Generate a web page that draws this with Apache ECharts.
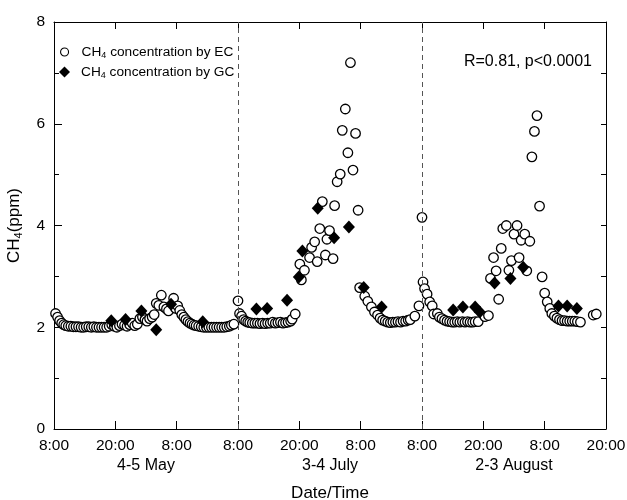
<!DOCTYPE html>
<html>
<head>
<meta charset="utf-8">
<script src="https://cdn.jsdelivr.net/npm/echarts@6/dist/echarts.min.js"></script>
<style>
html,body{margin:0;padding:0;background:#fff;}
#chart{width:627px;height:500px;}
</style>
</head>
<body>
<div id="chart"></div>
<script>
// ---- data (hours since 8:00 of first day of each campaign, laid end to end) ----
const tickLabels = ["8:00","20:00","8:00","8:00","20:00","8:00","8:00","20:00","8:00","20:00"];
const segmentLabels = ["4-5 May","3-4 July","2-3 August"];
const segmentCenters = [18, 54, 90];
const dividerHours = [36, 72];

const ecMayHours = [0.3,0.7,1.1,1.5,1.9,2.3,2.8,3.3,3.8,4.3,4.8,5.3,5.8,6.3,6.8,7.3,7.8,8.3,8.8,9.3,9.8,10.3,10.8,11.3,11.8,12.3,12.8,13.3,13.8,14.3,14.8,15.3,15.8,16.3,16.8,17.3,17.8,18.2,18.7,19.2,19.6,20.0,20.5,21.0,21.5,22.0,22.4,23.4,23.8,24.2,24.6,25.0,25.4,25.8,26.2,26.6,27.0,27.4,27.8,28.3,28.8,29.3,29.8,30.3,30.8,31.3,31.8,32.3,32.8,33.3,33.8,34.3,34.7,35.2];
const ecMayPpm = [2.27,2.2,2.13,2.08,2.05,2.03,2.02,2.02,2.01,2.01,2.01,2.0,2.0,2.01,2.01,2.0,2.01,2.0,2.0,2.0,2.0,2.0,2.02,2.05,2.02,2.0,2.03,2.06,2.04,2.02,2.05,2.08,2.03,2.06,2.17,2.2,2.15,2.12,2.17,2.2,2.25,2.47,2.43,2.63,2.40,2.36,2.32,2.57,2.37,2.42,2.33,2.25,2.2,2.15,2.11,2.08,2.06,2.04,2.03,2.02,2.01,2.0,2.0,2.0,2.0,2.0,2.0,2.0,2.0,2.0,2.01,2.02,2.04,2.06];

const ecJulyHours = [36.0,36.3,36.7,37.1,37.5,37.9,38.3,38.8,39.3,39.8,40.3,40.8,41.3,41.8,42.3,42.8,43.3,43.8,44.3,44.8,45.3,45.8,46.3,46.6,47.2,48.1,48.4,49.0,50.0,50.4,51.0,51.5,52.0,52.5,53.1,53.4,53.9,54.6,54.9,55.4,56.0,56.4,57.0,57.5,58.0,58.5,59.0,59.5,59.8,60.8,61.4,62.1,62.7,63.3,63.8,64.3,64.8,65.3,65.8,66.3,66.8,67.3,67.8,68.3,68.8,69.3,69.7,70.6,71.4];
const ecJulyPpm = [2.52,2.27,2.22,2.15,2.12,2.1,2.09,2.08,2.08,2.08,2.07,2.08,2.07,2.08,2.08,2.1,2.08,2.09,2.1,2.08,2.09,2.1,2.12,2.16,2.26,3.24,2.93,3.12,3.37,3.57,3.68,3.29,3.94,4.47,3.42,3.73,3.90,3.35,4.39,4.86,5.01,5.87,6.29,5.43,7.2,5.09,5.81,4.30,2.78,2.61,2.51,2.40,2.30,2.24,2.18,2.14,2.12,2.1,2.09,2.1,2.1,2.11,2.1,2.12,2.12,2.14,2.15,2.22,2.42];

const ecAugHours = [72.0,72.2,72.5,73.0,73.5,74.0,74.3,75.0,75.4,75.9,76.4,76.9,77.4,77.9,78.4,78.9,79.4,79.9,80.4,80.9,81.4,81.9,82.4,83.0,84.3,85.0,85.4,86.0,86.5,87.0,87.5,87.8,88.5,89.0,89.5,90.0,90.6,91.0,91.4,92.1,92.5,93.1,93.5,94.0,94.5,95.0,95.5,96.0,96.5,97.0,97.4,97.9,98.4,98.9,99.4,99.9,100.4,100.9,101.4,101.9,102.4,103.0,105.5,106.1];
const ecAugPpm = [4.16,2.89,2.76,2.65,2.50,2.42,2.26,2.27,2.2,2.17,2.14,2.12,2.11,2.1,2.1,2.11,2.1,2.11,2.1,2.11,2.1,2.1,2.11,2.11,2.21,2.23,2.96,3.37,3.11,2.55,3.55,3.94,4.0,3.12,3.31,3.83,4.0,3.37,3.71,3.83,3.11,3.69,5.35,5.85,6.16,4.38,2.99,2.67,2.50,2.37,2.27,2.22,2.18,2.15,2.13,2.13,2.12,2.12,2.12,2.12,2.11,2.1,2.24,2.26];

const gcHours = [11.2,14.0,17.1,20.0,22.9,29.1, 39.6,41.7,45.6,47.9,48.6,51.6,54.8,57.7,60.6,64.1, 78.1,80.0,82.4,83.3,86.2,89.3,91.8,98.7,100.4,102.3];
const gcPpm   = [2.13,2.15,2.32,1.95,2.45,2.11, 2.36,2.37,2.53,2.99,3.50,4.34,3.76,3.97,2.78,2.40, 2.34,2.40,2.40,2.30,2.87,2.96,3.18,2.42,2.42,2.37];

const statText = "R=0.81, p<0.0001";

// ---- build ----
function zip(a, b) { return a.map((x, i) => [x, b[i]]); }
const ecData = zip(ecMayHours, ecMayPpm).concat(zip(ecJulyHours, ecJulyPpm), zip(ecAugHours, ecAugPpm));
const gcData = zip(gcHours, gcPpm);

const FONT = "Liberation Sans, Arial, sans-serif";
const chart = echarts.init(document.getElementById('chart'), null, {renderer: 'canvas'});

const xBase = {type: 'value', min: 0, max: 108, interval: 12, splitLine: {show: false}};
const yBase = {type: 'value', min: 0, max: 8, interval: 2, splitLine: {show: false}};
const black = {color: '#000', width: 1};

function legendText(pad) {
  return {
    color: '#000', fontFamily: FONT,
    rich: {
      b: {fontSize: 13.7, fontFamily: FONT, color: '#000', lineHeight: 16, padding: [0, 0, 0, pad]},
      a: {fontSize: 13.7, fontFamily: FONT, color: '#000', lineHeight: 16},
      s: {fontSize: 9, fontFamily: FONT, color: '#000', verticalAlign: 'bottom', lineHeight: 12}
    }
  };
}
const legendFmt = n => '{b|CH}{s|4}{a| concentration by ' + n + '}';

chart.setOption({
  animation: false,
  backgroundColor: '#fff',
  textStyle: {fontFamily: FONT},
  grid: {left: 54, right: 21, top: 22, bottom: 71, containLabel: false, outerBoundsMode: 'none'},
  legend: [
    {
      orient: 'vertical', left: 60, top: 45, padding: 0, itemWidth: 8, itemHeight: 8,
      data: [{name: 'EC', icon: 'circle', itemStyle: {borderWidth: 1.1}}],
      formatter: legendFmt, textStyle: legendText(8)
    },
    {
      orient: 'vertical', left: 59, top: 65, padding: 0, itemWidth: 11, itemHeight: 11,
      data: [{name: 'GC', icon: 'diamond'}],
      formatter: legendFmt, textStyle: legendText(6)
    }
  ],
  graphic: [{
    type: 'text', right: 35, top: 54,
    style: {text: statText, font: '16px ' + FONT, fill: '#000'}
  }],
  xAxis: [
    Object.assign({}, xBase, {
      position: 'bottom',
      name: 'Date/Time', nameLocation: 'middle', nameGap: 56,
      nameTextStyle: {fontSize: 17, color: '#000', fontFamily: FONT},
      axisLine: {onZero: false, lineStyle: black},
      axisTick: {inside: true, length: 8, lineStyle: black},
      axisLabel: {margin: 9, fontSize: 15.5, color: '#000', fontFamily: FONT,
        formatter: v => tickLabels[Math.round(v / 12)]}
    }),
    Object.assign({}, xBase, {
      position: 'top',
      axisLine: {onZero: false, lineStyle: black},
      axisTick: {inside: true, length: 7, lineStyle: black},
      axisLabel: {show: false}
    }),
    Object.assign({}, xBase, {
      position: 'bottom', offset: 21,
      axisLine: {show: false, onZero: false},
      axisTick: {show: false},
      axisLabel: {margin: 8, fontSize: 16, color: '#000', fontFamily: FONT,
        customValues: segmentCenters,
        formatter: v => segmentLabels[segmentCenters.indexOf(v)]}
    })
  ],
  yAxis: [
    Object.assign({}, yBase, {
      position: 'left',
      name: '{a|CH}{s|4}{a|(ppm)}', nameLocation: 'middle', nameGap: 30, nameRotate: 90,
      nameTextStyle: {color: '#000', fontFamily: FONT, rich: {
        a: {fontSize: 17, fontFamily: FONT, color: '#000', lineHeight: 20},
        s: {fontSize: 11, fontFamily: FONT, color: '#000', verticalAlign: 'bottom', lineHeight: 14}
      }},
      axisLine: {onZero: false, lineStyle: black},
      axisTick: {inside: true, length: 8, lineStyle: black},
      minorTick: {show: true, splitNumber: 2, length: 5, lineStyle: black},
      axisLabel: {margin: 9, fontSize: 15.5, color: '#000', fontFamily: FONT}
    }),
    Object.assign({}, yBase, {
      position: 'right',
      axisLine: {onZero: false, lineStyle: black},
      axisTick: {inside: true, length: 5, lineStyle: black},
      minorTick: {show: true, splitNumber: 2, length: 5, lineStyle: black},
      axisLabel: {show: false}
    })
  ],
  series: [
    {
      name: 'EC', type: 'scatter', xAxisIndex: 0, yAxisIndex: 0,
      symbol: 'circle', symbolSize: 9.5,
      itemStyle: {color: '#fff', borderColor: '#000', borderWidth: 1.3, opacity: 1},
      data: ecData,
      markLine: {
        silent: true, symbol: 'none', label: {show: false},
        lineStyle: {color: '#555', type: [5, 4], width: 1},
        data: dividerHours.map(h => ({xAxis: h}))
      }
    },
    {
      name: 'GC', type: 'scatter', xAxisIndex: 0, yAxisIndex: 0,
      symbol: 'diamond', symbolSize: [12, 13],
      itemStyle: {color: '#000', opacity: 1},
      data: gcData
    }
  ]
});
</script>
</body>
</html>
